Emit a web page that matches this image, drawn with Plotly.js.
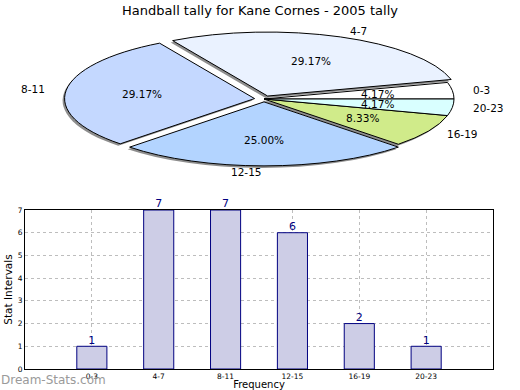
<!DOCTYPE html>
<html><head><meta charset="utf-8">
<script src="https://cdn.plot.ly/plotly-3.0.1.min.js"></script>
<style>html,body{margin:0;padding:0;background:#fff}#chart{width:520px;height:390px}</style>
</head><body><div id="chart"></div>
<script>
// ---- data ----
const categories = ['0-3', '4-7', '8-11', '12-15', '16-19', '20-23'];
const counts = [1, 7, 7, 6, 2, 1];
const sliceColors = ['#ffffff', '#eaf2ff', '#c4d8ff', '#b3d4ff', '#d0eb8a', '#d9ffff'];
const pulls = [0, 0.05, 0.05, 0.045, 0, 0];
const yTicks = [0, 1, 2, 3, 4, 5, 6, 7];
const titleText = 'Handball tally for Kane Cornes - 2005 tally';
const yTitle = 'Stat Intervals';
const xTitle = 'Frequency';
const watermark = 'Dream-Stats.com';

// ---- geometry ----
const W = 520, H = 390;
const M = {l: 25, r: 27, t: 0, b: 21};
const PW = W - M.l - M.r, PH = H - M.t - M.b;
const PIE = {cx: 264, cy: 99, rx: 190, ry: 64};   // ellipse in page px
const SHADOW = {dx: -2, dy: 2};
const FONT = 'DejaVu Sans, Liberation Sans, sans-serif';
const px2x = p => (p - M.l) / PW;
const px2y = p => 1 - (p - M.t) / PH;

// label annotations for the squashed pie (matplotlib style)
const total = counts.reduce((a, b) => a + b, 0);
const annotations = [];
let acc = 0;
counts.forEach((v, i) => {
  const mid = (acc + v / 2) / total * 2 * Math.PI;
  acc += v;
  const c = Math.cos(mid), s = Math.sin(mid);
  const ox = PIE.cx + pulls[i] * PIE.rx * c, oy = PIE.cy - pulls[i] * PIE.ry * s;
  annotations.push({
    xref: 'paper', yref: 'paper', showarrow: false,
    x: px2x(ox + 0.6 * PIE.rx * c), y: px2y(oy - 0.6 * PIE.ry * s),
    xanchor: 'center', yanchor: 'middle',
    text: (100 * v / total).toFixed(2) + '%',
    font: {family: FONT, size: 10.5, color: '#000'}
  });
  annotations.push({
    xref: 'paper', yref: 'paper', showarrow: false,
    x: px2x(ox + 1.1 * PIE.rx * c), y: px2y(oy - 1.1 * PIE.ry * s),
    xanchor: c > 1e-9 ? 'left' : 'right', yanchor: 'middle',
    text: categories[i],
    font: {family: FONT, size: 10.5, color: '#000'}
  });
});
annotations.push({
  xref: 'paper', yref: 'paper', showarrow: false,
  x: px2x(-1), y: px2y(380), xanchor: 'left', yanchor: 'middle',
  text: watermark, font: {family: FONT, size: 12, color: '#9a9a9a'}
});

// Plotly's counterclockwise pies end the first slice at `rotation`,
// so shift by the first slice's angle to start it at 3 o'clock.
const firstAngle = 360 * counts[0] / total;

const pieCommon = {
  type: 'pie', values: counts, labels: categories, sort: false,
  direction: 'counterclockwise', rotation: 90 - firstAngle, pull: pulls,
  textinfo: 'none', hoverinfo: 'skip', showlegend: false,
  domain: {x: [0, 1], y: [0, 1]}
};

const data = [
  Object.assign({}, pieCommon, {marker: {colors: categories.map(() => '#8e8e8e'), line: {width: 0}}}),
  Object.assign({}, pieCommon, {marker: {colors: sliceColors, line: {color: '#000', width: 1}}}),
  {
    type: 'bar', x: categories, y: counts, width: 0.45,
    marker: {color: '#cdcde6', line: {color: '#000080', width: 1}},
    hoverinfo: 'skip', showlegend: false
  },
  {
    type: 'scatter', mode: 'text', x: categories, y: counts,
    text: counts.map(String), textposition: 'top center',
    textfont: {family: FONT, size: 11, color: '#000080'},
    cliponaxis: false, hoverinfo: 'skip', showlegend: false
  }
];

const layout = {
  width: W, height: H, margin: M,
  paper_bgcolor: '#fff', plot_bgcolor: '#fff',
  font: {family: FONT, color: '#000'},
  showlegend: false,
  title: {text: titleText, x: 0.5, xref: 'container', xanchor: 'center',
          y: 1 - 10 / H, yref: 'container', yanchor: 'middle',
          font: {family: FONT, size: 13, color: '#000'}},
  xaxis: {
    type: 'category', range: [-1, 6], domain: [0, 1],
    showgrid: true, gridcolor: '#bdbdbd', griddash: 'dot', gridwidth: 1,
    showline: true, mirror: true, linecolor: '#000', linewidth: 1,
    ticks: '', tickfont: {family: FONT, size: 7.5, color: '#000'},
    title: {text: xTitle, standoff: 9, font: {family: FONT, size: 10, color: '#000'}},
    fixedrange: true
  },
  yaxis: {
    range: [0, 7], domain: [0, 1 - (210 - M.t) / PH], tickvals: yTicks,
    showgrid: true, gridcolor: '#bdbdbd', griddash: 'dot', gridwidth: 1,
    showline: true, mirror: true, linecolor: '#000', linewidth: 1, zeroline: false,
    ticks: '', tickfont: {family: FONT, size: 7.5, color: '#000'},
    title: {text: yTitle, standoff: 3, font: {family: FONT, size: 10.5, color: '#000'}},
    fixedrange: true
  },
  annotations: annotations
};

Plotly.newPlot('chart', data, layout, {staticPlot: true}).then(gd => {
  // squash the circular pie traces into the flat ellipse of the reference
  const groups = gd.querySelectorAll('.pielayer .trace');
  const gs = gd._fullLayout._size;
  let k = 0;
  gd._fullData.forEach((tr, i) => {
    if (tr.type !== 'pie') return;
    const g = groups[k++];
    if (!g) return;
    const c0 = (gd.calcdata[i] || [])[0] || {};
    const maxPull = Math.max.apply(null, pulls);
    const cx = c0.cx != null ? c0.cx : gs.l + gs.w / 2;
    const cy = c0.cy != null ? c0.cy : gs.t + gs.h / 2;
    const r = c0.r != null ? c0.r : Math.min(gs.w, gs.h) / 2 / (1 + maxPull);
    const off = i === 0 ? SHADOW : {dx: 0, dy: 0};
    g.setAttribute('transform',
      'translate(' + (PIE.cx + off.dx) + ',' + (PIE.cy + off.dy) + ') scale(' +
      (PIE.rx / r) + ',' + (PIE.ry / r) + ') translate(' + (-cx) + ',' + (-cy) + ')');
    g.querySelectorAll('path').forEach(p => p.setAttribute('vector-effect', 'non-scaling-stroke'));
  });
});
</script>
</body></html>
